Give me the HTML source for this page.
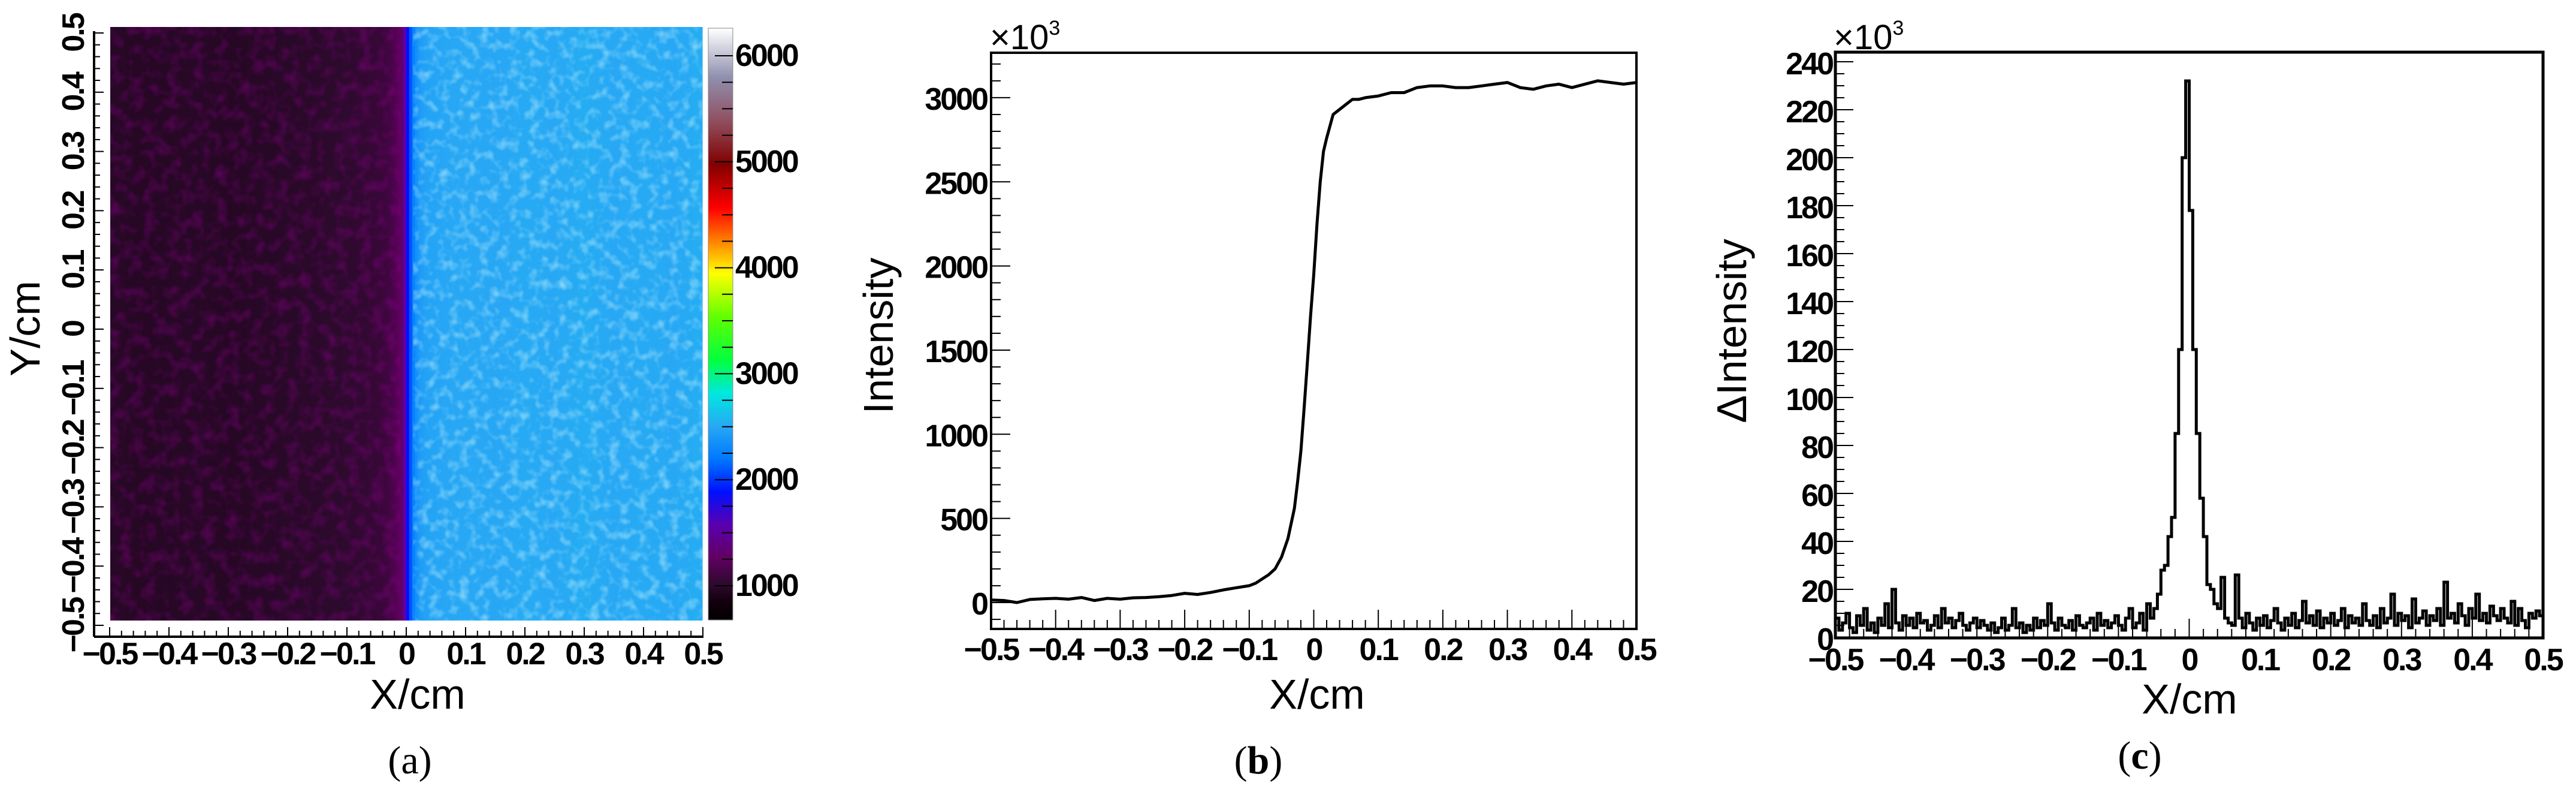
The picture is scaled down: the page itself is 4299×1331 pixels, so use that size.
<!DOCTYPE html>
<html><head><meta charset="utf-8">
<style>
html,body{margin:0;padding:0;background:#fff;}
svg{display:block;}
text{font-family:"Liberation Sans",sans-serif;}
.tk{font-weight:bold;font-size:52px;fill:#000;letter-spacing:-3px;}
.tt{font-size:70px;fill:#000;}
.cap{font-family:"Liberation Serif",serif;font-size:66px;fill:#000;}
</style></head>
<body>
<svg id="fig" width="4299" height="1331" viewBox="0 0 4299 1331" xmlns="http://www.w3.org/2000/svg">
<defs>
<filter id="speck" x="0" y="0" width="100%" height="100%">
<feTurbulence type="fractalNoise" baseFrequency="0.06" numOctaves="2" seed="3"/>
<feColorMatrix type="matrix" values="0 0 0 0 0.55  0 0 0 0 0.9  0 0 0 0 1  0 0 0 1.6 -0.75"/>
</filter>
<filter id="speckD" x="0" y="0" width="100%" height="100%">
<feTurbulence type="fractalNoise" baseFrequency="0.05" numOctaves="2" seed="7"/>
<feColorMatrix type="matrix" values="0 0 0 0 0.3  0 0 0 0 0  0 0 0 0 0.3  0 0 0 1.2 -0.5"/>
</filter>
</defs>
<g id="pa"></g>
<g id="pb"></g>
<g id="pc"></g>
</svg>
<script>
// ---------- Panel (a) data ----------
const aXTicks = [-0.5,-0.4,-0.3,-0.2,-0.1,0,0.1,0.2,0.3,0.4,0.5];
const aXTickLabels = ["\u22120.5","\u22120.4","\u22120.3","\u22120.2","\u22120.1","0","0.1","0.2","0.3","0.4","0.5"];
const aYTicks = [-0.5,-0.4,-0.3,-0.2,-0.1,0,0.1,0.2,0.3,0.4,0.5];
const aYTickLabels = ["\u22120.5","\u22120.4","\u22120.3","\u22120.2","\u22120.1","0","0.1","0.2","0.3","0.4","0.5"];
const cbTicks = [1000,2000,3000,4000,5000,6000];
const cbLabels = ["1000","2000","3000","4000","5000","6000"];
const aColX = [-0.495,-0.45,-0.4,-0.35,-0.3,-0.25,-0.2,-0.15,-0.1,-0.07,-0.05,-0.035,-0.025,-0.018,-0.012,-0.007,-0.003,0.002,0.006,0.01,0.015,0.02,0.03,0.05,0.1,0.15,0.2,0.25,0.3,0.35,0.4,0.45,0.495];
const aColV = [1120,1110,1115,1120,1110,1120,1130,1140,1160,1180,1200,1230,1270,1320,1380,1430,1650,1980,2150,2300,2420,2500,2560,2580,2600,2590,2610,2600,2620,2600,2610,2600,2620];

// ---------- Panel (b) data ----------
const bX = [-0.5,-0.48,-0.46,-0.44,-0.42,-0.4,-0.38,-0.36,-0.34,-0.32,-0.3,-0.28,-0.26,-0.24,-0.22,-0.2,-0.18,-0.16,-0.14,-0.12,-0.1,-0.09,-0.08,-0.07,-0.06,-0.05,-0.04,-0.03,-0.025,-0.02,-0.015,-0.01,-0.005,0,0.005,0.01,0.015,0.02,0.025,0.03,0.04,0.05,0.06,0.07,0.08,0.1,0.12,0.14,0.16,0.18,0.2,0.22,0.24,0.26,0.28,0.3,0.32,0.34,0.36,0.38,0.4,0.42,0.44,0.46,0.48,0.5];
const bY = [15,12,0,18,22,25,20,30,12,25,20,28,30,35,42,55,48,60,75,88,100,115,140,165,200,270,380,560,720,900,1150,1420,1700,1950,2250,2500,2680,2760,2830,2900,2930,2960,2990,2990,3000,3010,3030,3030,3060,3070,3070,3060,3060,3070,3080,3090,3060,3050,3070,3080,3060,3080,3100,3090,3080,3090];
const bYTicks = [0,500,1000,1500,2000,2500,3000];
const bYTickLabels = ["0","500","1000","1500","2000","2500","3000"];
const bXTicks = aXTicks;
const bXTickLabels = aXTickLabels;

// ---------- Panel (c) data ----------  (200 bins, width 0.005)
const cBinStart = -0.5;
const cBinWidth = 0.005;
const cCounts = [
 8,3,6,10,4,2,9,5,12,3, 6,2,8,5,14,4,20,6,3,9, 5,8,4,10,6,7,3,5,9,4, 12,6,8,4,7,10,5,3,6,8, 4,7,5,3,6,2,4,8,3,5,
 12,4,6,2,5,3,8,4,7,5, 14,6,3,8,5,4,7,3,9,5, 4,6,8,3,10,5,7,4,6,9, 5,3,8,12,4,6,10,3,14,8,
 12,18,28,30,42,50,85,120,200,232, 178,120,85,58,42,22,20,14,12,25, 8,6,5,26,8,4,10,6,3,8,
 5,9,4,7,12,6,3,8,5,10, 4,7,15,6,9,5,11,4,8,6, 10,5,7,12,4,9,6,8,5,14, 7,5,9,4,12,6,8,18,5,10,
 7,9,4,16,6,8,11,5,9,7, 12,5,23,8,10,6,14,9,5,12, 8,18,7,10,6,13,9,7,12,8, 6,15,5,12,7,4,10,8,11,9
];
const cYTicks = [0,20,40,60,80,100,120,140,160,180,200,220,240];
const cYTickLabels = ["0","20","40","60","80","100","120","140","160","180","200","220","240"];
const cXTicks = aXTicks;
const cXTickLabels = aXTickLabels;

const cmapV = [824,1000,1150,1400,1700,2000,2300,2600,2900,3200,3600,4000,4300,4600,5000,5400,5800,6242];
const cmapC = ["#000000","#14000e","#2c0a2c","#620062","#5a00b0","#0010ff","#0078ff","#28a8f4","#00e8e0","#00ff40","#60ff00","#ffff00","#ff8000","#ff0000","#800000","#905060","#9090b0","#ffffff"];

const NS="http://www.w3.org/2000/svg";
function mk(parent,tag,attrs){const e=document.createElementNS(NS,tag);for(const k in attrs)e.setAttribute(k,attrs[k]);parent.appendChild(e);return e;}
function hex(c){return [parseInt(c.substr(1,2),16),parseInt(c.substr(3,2),16),parseInt(c.substr(5,2),16)];}
function cmap(v){
  if(v<=cmapV[0])return cmapC[0];
  for(let i=1;i<cmapV.length;i++){if(v<=cmapV[i]){const t=(v-cmapV[i-1])/(cmapV[i]-cmapV[i-1]);const a=hex(cmapC[i-1]),b=hex(cmapC[i]);return "rgb("+a.map((x,j)=>Math.round(x+(b[j]-x)*t)).join(",")+")";}}
  return cmapC[cmapC.length-1];
}
function interp(xs,ys,x){if(x<=xs[0])return ys[0];for(let i=1;i<xs.length;i++){if(x<=xs[i]){const t=(x-xs[i-1])/(xs[i]-xs[i-1]);return ys[i-1]+(ys[i]-ys[i-1])*t;}}return ys[ys.length-1];}

// ---------------- Panel (a) ----------------
(function(){
  const g=document.getElementById('pa');
  const X0=184,X1=1172,Y0=45,Y1=1035;
  const ax=v=>183+(v+0.5)*990;
  const ay=v=>1043-(v+0.5)*988;
  const cols=200;
  for(let i=0;i<cols;i++){
    const xv=-0.5+(i+0.5)/cols;
    const v=interp(aColX,aColV,xv);
    const x=X0+(X1-X0)*i/cols;
    const r=mk(g,'rect',{x:x.toFixed(2),y:Y0,width:((X1-X0)/cols+0.6).toFixed(2),height:Y1-Y0,fill:cmap(v)});
    
    
  }
  const xs=ax(0.012);
  mk(g,'rect',{x:xs,y:Y0,width:X1-xs,height:Y1-Y0,filter:'url(#speck)',opacity:0.8});
  mk(g,'rect',{x:X0,y:Y0,width:ax(-0.01)-X0,height:Y1-Y0,filter:'url(#speckD)',opacity:0.7});
  const CB0=1182,CB1=1223,CBT=47,CBB=1034;
  const cy=v=>977-(v-1000)*0.1768;
  for(let k=0;k<240;k++){
    const v=824+(6242-824)*(k+0.5)/240;
    const yTop=CBB-(CBB-CBT)*(k+1)/240;
    mk(g,'rect',{x:CB0,y:yTop.toFixed(2),width:CB1-CB0,height:((CBB-CBT)/240+0.6).toFixed(2),fill:cmap(v)});
  }
  const cbFrame=mk(g,'rect',{x:CB0,y:CBT,width:CB1-CB0,height:CBB-CBT,fill:'none',stroke:'#888','stroke-width':1});
  
  
  for(let v=1000;v<=6200;v+=250){const y=cy(v);mk(g,'line',{x1:CB1-(v%1000===0?30:18),x2:CB1,y1:y,y2:y,stroke:'#000','stroke-width':2});}
  cbTicks.forEach((v,i)=>{const t=mk(g,'text',{x:1227,y:cy(v)+17,class:'tk','font-size':'48','letter-spacing':'0'});t.textContent=cbLabels[i];
    });
  mk(g,'line',{x1:157,x2:157,y1:ay(0.5)-3,y2:1062,stroke:'#000','stroke-width':4});
  mk(g,'line',{x1:157,x2:1174,y1:1062,y2:1062,stroke:'#000','stroke-width':4});
  for(let k=0;k<=50;k++){const v=-0.5+k*0.02;const x=ax(v);const maj=(k%5===0);
    mk(g,'line',{x1:x,x2:x,y1:1062,y2:1062-(maj?16:10),stroke:'#000','stroke-width':2});
    const y=ay(v);mk(g,'line',{x1:157,x2:157+(maj?16:10),y1:y,y2:y,stroke:'#000','stroke-width':2});}
  aXTicks.forEach((v,i)=>{const t=mk(g,'text',{x:ax(v),y:1108,class:'tk','text-anchor':'middle','font-size':'47'});t.textContent=aXTickLabels[i];
    });
  aYTicks.forEach((v,i)=>{const y=ay(v);const t=mk(g,'text',{x:0,y:0,class:'tk','text-anchor':'middle','font-size':'47',transform:'translate(140,'+y+') rotate(-90)'});t.textContent=aYTickLabels[i];
    });
  const xt=mk(g,'text',{x:697,y:1182,class:'tt','text-anchor':'middle'});xt.textContent='X/cm';
  
  const yt=mk(g,'text',{x:0,y:0,class:'tt','text-anchor':'middle',transform:'translate(66,548) rotate(-90)'});yt.textContent='Y/cm';
  
  const cp=mk(g,'text',{x:684,y:1290,class:'cap','text-anchor':'middle'});cp.innerHTML='(a)';
  
})();

// ---------------- Panel (b) ----------------
(function(){
  const g=document.getElementById('pb');
  const L=1654,R=2731,T=88,B=1049;
  const bx=v=>L+(v+0.5)*(R-L);
  const by=v=>1005-v*0.2807;
  const fr=mk(g,'rect',{x:L,y:T,width:R-L,height:B-T,fill:'none',stroke:'#000','stroke-width':4});
  
  for(let k=0;k<=50;k++){const v=-0.5+k*0.02;const x=bx(v);const maj=(k%5===0);
    mk(g,'line',{x1:x,x2:x,y1:B,y2:B-(maj?32:15),stroke:'#000','stroke-width':2});}
  for(let v=-100;v<=3250;v+=100){const y=by(v);if(y<T||y>B)continue;const maj=(v%500===0);
    mk(g,'line',{x1:L,x2:L+(maj?32:16),y1:y,y2:y,stroke:'#000','stroke-width':2});}
  const pts=bX.map((x,i)=>bx(x).toFixed(1)+','+by(bY[i]).toFixed(1)).join(' ');
  const ln=mk(g,'polyline',{points:pts,fill:'none',stroke:'#000','stroke-width':5,'stroke-linejoin':'round'});
  
  bXTicks.forEach((v,i)=>{const t=mk(g,'text',{x:bx(v),y:1101,class:'tk','text-anchor':'middle','font-size':'56'});t.textContent=bXTickLabels[i];
    });
  bYTicks.forEach((v,i)=>{const t=mk(g,'text',{x:1647,y:by(v)+20,class:'tk','text-anchor':'end','font-size':'56'});t.textContent=bYTickLabels[i];
    });
  const m=mk(g,'text',{x:1652,y:82,'font-size':'58'});m.innerHTML='\u00d710<tspan font-size="34" dy="-24">3</tspan>';
  
  const xt=mk(g,'text',{x:2198,y:1182,class:'tt','text-anchor':'middle'});xt.textContent='X/cm';
  
  const yt=mk(g,'text',{x:0,y:0,class:'tt','text-anchor':'middle',transform:'translate(1490,560) rotate(-90)'});yt.textContent='Intensity';
  
  const cp=mk(g,'text',{x:2100,y:1290,class:'cap','text-anchor':'middle'});cp.innerHTML='(<tspan font-weight="bold">b</tspan>)';
  
})();

// ---------------- Panel (c) ----------------
(function(){
  const g=document.getElementById('pc');
  const L=3063,R=4244,T=87,B=1064;
  const cx=v=>L+(v+0.5)*(R-L);
  const cyy=v=>1063-v*4.0;
  const fr=mk(g,'rect',{x:L,y:T,width:R-L,height:B-T,fill:'none',stroke:'#000','stroke-width':5});
  
  for(let k=0;k<=50;k++){const v=-0.5+k*0.02;const x=cx(v);const maj=(k%5===0);
    mk(g,'line',{x1:x,x2:x,y1:B,y2:B-(maj?32:15),stroke:'#000','stroke-width':2});}
  for(let v=0;v<=240;v+=5){const y=cyy(v);const maj=(v%20===0);
    mk(g,'line',{x1:L,x2:L+(maj?30:15),y1:y,y2:y,stroke:'#000','stroke-width':2});}
  let d='M'+cx(cBinStart).toFixed(1)+','+cyy(0).toFixed(1);
  cCounts.forEach((c,i)=>{const x0=cx(cBinStart+i*cBinWidth),x1=cx(cBinStart+(i+1)*cBinWidth),y=cyy(c);
    d+=' L'+x0.toFixed(1)+','+y.toFixed(1)+' L'+x1.toFixed(1)+','+y.toFixed(1);});
  d+=' L'+cx(cBinStart+cCounts.length*cBinWidth).toFixed(1)+','+cyy(0).toFixed(1);
  const h=mk(g,'path',{d:d,fill:'none',stroke:'#000','stroke-width':5,'stroke-linejoin':'miter'});
  
  cXTicks.forEach((v,i)=>{const t=mk(g,'text',{x:cx(v),y:1118,class:'tk','text-anchor':'middle','font-size':'60'});t.textContent=cXTickLabels[i];
    });
  cYTicks.forEach((v,i)=>{const t=mk(g,'text',{x:3058,y:cyy(v)+21,class:'tk','text-anchor':'end','font-size':'60'});t.textContent=cYTickLabels[i];
    });
  const m=mk(g,'text',{x:3060,y:82,'font-size':'58'});m.innerHTML='\u00d710<tspan font-size="34" dy="-24">3</tspan>';
  
  const xt=mk(g,'text',{x:3654,y:1190,class:'tt','text-anchor':'middle'});xt.textContent='X/cm';
  
  const yt=mk(g,'text',{x:0,y:0,class:'tt','text-anchor':'middle',transform:'translate(2914,552) rotate(-90)'});yt.textContent='\u0394Intensity';
  
  const cp=mk(g,'text',{x:3571,y:1282,class:'cap','text-anchor':'middle'});cp.innerHTML='(<tspan font-weight="bold">c</tspan>)';
  
})();
</script>
</body></html>
